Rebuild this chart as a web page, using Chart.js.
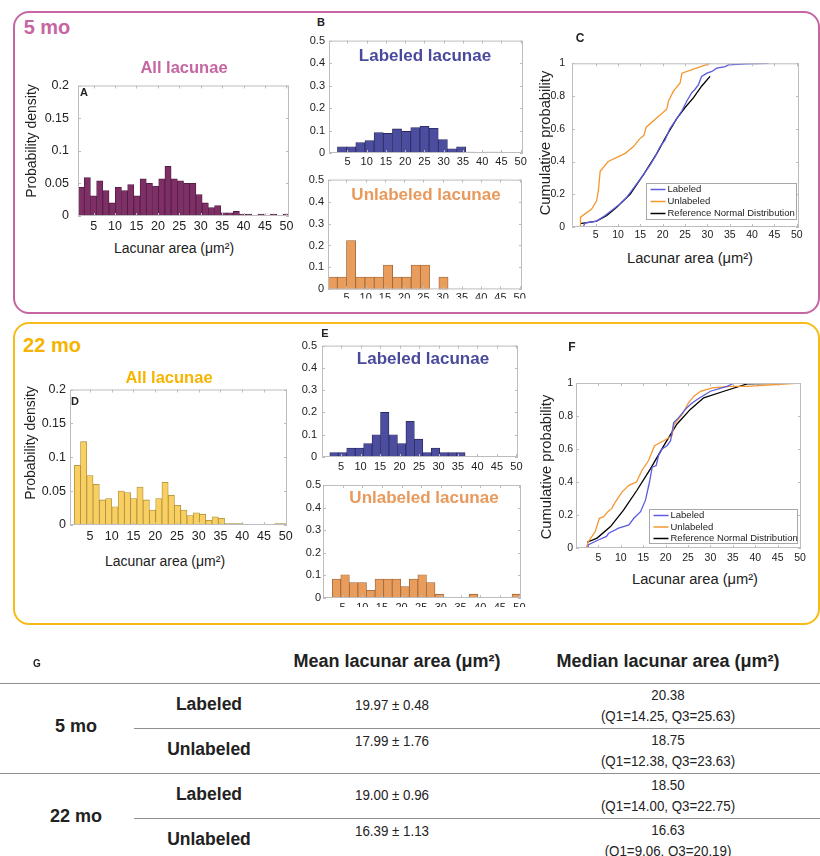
<!DOCTYPE html>
<html lang="en">
<head>
<meta charset="UTF-8">
<title>Lacunar area, 5 mo vs 22 mo</title>
<script src="https://cdn.jsdelivr.net/npm/chart.js"></script>
<style>
  body { margin: 0; background: #fff; font-family: "Liberation Sans", Arial, Helvetica, sans-serif; }
  #page { position: relative; width: 820px; height: 856px; overflow: hidden; }
  canvas { position: absolute; }
  .lbl { position: absolute; white-space: nowrap; transform: translate(-50%, -50%); color: #222; line-height: 1; }
  .rot { transform: translate(-50%, -50%) rotate(-90deg); }
  .narrow { transform: translate(-50%, -50%) scaleX(0.86); }
  .frame { position: absolute; box-sizing: border-box; border-radius: 16px; }
  .rule { position: absolute; height: 0; border-top: 1.5px solid #8f8f8f; }
  .b { font-weight: bold; }
</style>
</head>
<body>
<div id="page">
  <div class="frame" style="left:13px;top:11px;width:807px;height:303px;border:2.5px solid #c566a3"></div>
  <div class="frame" style="left:13px;top:322px;width:807px;height:303px;border:2.5px solid #f7bb17"></div>

  <canvas id="cA"></canvas>
  <canvas id="cB1"></canvas>
  <canvas id="cB2"></canvas>
  <canvas id="cC"></canvas>
  <canvas id="cD"></canvas>
  <canvas id="cE1"></canvas>
  <canvas id="cE2"></canvas>
  <canvas id="cF"></canvas>

  <!-- 5 mo -->
  <div class="lbl b" style="left:47px;top:27px;font-size:20px;color:#c566a3">5 mo</div>
  <div class="lbl b" style="left:184px;top:67px;font-size:16.5px;color:#c566a3">All lacunae</div>
  <div class="lbl b" style="left:84px;top:92px;font-size:11px">A</div>
  <div class="lbl rot" style="left:31px;top:141px;font-size:14px">Probability density</div>
  <div class="lbl" style="left:174px;top:248px;font-size:14px">Lacunar area (μm²)</div>
  <div class="lbl b" style="left:321px;top:22px;font-size:11px">B</div>
  <div class="lbl b" style="left:425px;top:55px;font-size:17px;color:#4a4a9c">Labeled lacunae</div>
  <div class="lbl b" style="left:426px;top:194px;font-size:17px;color:#e8995b">Unlabeled lacunae</div>
  <div class="lbl b" style="left:580px;top:38px;font-size:12px">C</div>
  <div class="lbl rot" style="left:545px;top:143px;font-size:14.7px">Cumulative probability</div>
  <div class="lbl" style="left:690px;top:258px;font-size:14.7px">Lacunar area (μm²)</div>

  <!-- 22 mo -->
  <div class="lbl b" style="left:52px;top:345px;font-size:20px;color:#f6b400">22 mo</div>
  <div class="lbl b" style="left:169px;top:377px;font-size:16.5px;color:#f6b400">All lacunae</div>
  <div class="lbl b" style="left:75px;top:401px;font-size:11px">D</div>
  <div class="lbl rot" style="left:30px;top:443px;font-size:14px">Probability density</div>
  <div class="lbl" style="left:165px;top:561px;font-size:14px">Lacunar area (μm²)</div>
  <div class="lbl b" style="left:325px;top:333px;font-size:11px">E</div>
  <div class="lbl b" style="left:423px;top:358px;font-size:17px;color:#4a4a9c">Labeled lacunae</div>
  <div class="lbl b" style="left:424px;top:497px;font-size:17px;color:#e8995b">Unlabeled lacunae</div>
  <div class="lbl b" style="left:572px;top:347px;font-size:12px">F</div>
  <div class="lbl rot" style="left:546px;top:467px;font-size:14.7px">Cumulative probability</div>
  <div class="lbl" style="left:695px;top:579px;font-size:14.7px">Lacunar area (μm²)</div>

  <div id="table"></div>
</div>

<script>
// ---------- data ----------
const xTickVals = [5, 10, 15, 20, 25, 30, 35, 40, 45, 50];
const densTickVals = [0, 0.05, 0.1, 0.15, 0.2];
const densTickText = ['0', '0.05', '0.1', '0.15', '0.2'];
const fracTickVals = [0, 0.1, 0.2, 0.3, 0.4, 0.5];
const fracTickText = ['0', '0.1', '0.2', '0.3', '0.4', '0.5'];
const cumTickVals = [0, 0.2, 0.4, 0.6, 0.8, 1];
const cumTickText = ['0', '0.2', '0.4', '0.6', '0.8', '1'];

// 5 mo histograms (bin start, bin width, density per bin)
const all5Start = 1.35, all5Width = 1.449;
const all5 = [0.044, 0.059, 0.031, 0.054, 0.039, 0.020, 0.044, 0.039, 0.048, 0.031, 0.057, 0.050,
  0.046, 0.057, 0.076, 0.057, 0.054, 0.050, 0.050, 0.033, 0.020, 0.013, 0.016, 0.005, 0.005, 0.007,
  0.003, 0.003, 0, 0.003, 0, 0.003, 0, 0.003];
const lab5Start = 2.4, lab5Width = 2.38;
const lab5 = [0.028, 0.028, 0.046, 0.055, 0.091, 0.087, 0.107, 0.096, 0.113, 0.119, 0.110, 0.060,
  0.019, 0.028, 0.004, 0, 0.004, 0.004];
const unl5Start = 0.2, unl5Width = 2.4;
const unl5 = [0.056, 0.056, 0.222, 0.056, 0.056, 0.056, 0.111, 0.056, 0.056, 0.111, 0.111, 0, 0.056];

// 5 mo cumulative curves
const cdf5LabX = [2.2, 2.6, 5.2, 7.1, 9.0, 10.4, 11.9, 13.8, 15.7, 17.2, 18.3, 19.4, 20.5, 21.6, 23.1,
  24.3, 25.4, 26.5, 27.2, 28.0, 28.7, 29.9, 31.0, 32.1, 34.0, 34.7, 38.8, 43.7];
const cdf5LabY = [0, 0.024, 0.036, 0.07, 0.11, 0.14, 0.18, 0.25, 0.32, 0.38, 0.43, 0.49, 0.53, 0.60, 0.66,
  0.71, 0.77, 0.82, 0.84, 0.87, 0.92, 0.94, 0.95, 0.97, 0.98, 0.99, 0.996, 1.0];
const cdf5UnlX = [1.5, 1.6, 4.1, 5.2, 5.6, 6.0, 7.8, 11.6, 13.4, 14.9, 15.8, 16.3, 20.9, 21.3, 22.4, 23.9, 24.3, 30.6];
const cdf5UnlY = [0, 0.06, 0.11, 0.16, 0.22, 0.34, 0.40, 0.45, 0.49, 0.54, 0.56, 0.61, 0.72, 0.77, 0.83, 0.88, 0.94, 1.0];
const cdf5RefX = [1.5, 5.2, 7.5, 9.7, 12.7, 15.7, 18.7, 20.9, 23.1, 25.0, 26.9, 28.7, 30.6];
const cdf5RefY = [0.02, 0.036, 0.07, 0.12, 0.20, 0.32, 0.45, 0.56, 0.66, 0.73, 0.79, 0.86, 0.92];

// 22 mo histograms
const all22Start = 1.38, all22Width = 1.44;
const all22 = [0.088, 0.123, 0.073, 0.060, 0.037, 0.039, 0.027, 0.050, 0.048, 0.039, 0.056, 0.037,
  0.022, 0.039, 0.063, 0.044, 0.029, 0.022, 0.014, 0.018, 0.016, 0.007, 0.012, 0.010, 0.002, 0.002,
  0.002, 0, 0, 0, 0, 0, 0.002, 0.002];
const lab22Start = 2.1, lab22Width = 2.17;
const lab22 = [0.02, 0.02, 0.04, 0.04, 0.06, 0.10, 0.20, 0.10, 0.06, 0.16, 0.08, 0.02, 0.04, 0.02, 0.02, 0.02];
const unl22Start = 2.35, unl22Width = 2.18;
const unl22 = [0.084, 0.103, 0.068, 0.068, 0.034, 0.084, 0.084, 0.084, 0.051, 0.084, 0.103, 0.068,
  0.017, 0, 0, 0, 0.017, 0, 0, 0, 0, 0.017];

// 22 mo cumulative curves
const cdf22LabX = [2.6, 2.8, 5.1, 6.8, 7.3, 9.5, 11.8, 12.9, 14.4, 15.5, 16.4, 17.0, 17.9, 18.4, 19.2,
  20.3, 21.1, 21.8, 22.9, 24.4, 25.5, 27.0, 30.0, 33.7, 35.3];
const cdf22LabY = [0, 0.02, 0.05, 0.07, 0.09, 0.12, 0.14, 0.18, 0.22, 0.29, 0.40, 0.49, 0.50, 0.56, 0.60,
  0.62, 0.65, 0.76, 0.79, 0.84, 0.87, 0.90, 0.95, 0.98, 1.0];
const cdf22UnlX = [2.3, 2.8, 4.3, 5.2, 6.2, 7.1, 8.0, 8.8, 10.3, 11.8, 13.5, 14.7, 16.2, 17.5, 19.6,
  21.4, 21.9, 23.7, 25.1, 26.3, 27.8, 30.4, 34.4, 38.2, 50.0];
const cdf22UnlY = [0, 0.04, 0.10, 0.18, 0.19, 0.22, 0.24, 0.28, 0.34, 0.38, 0.40, 0.47, 0.53, 0.62, 0.65,
  0.68, 0.75, 0.81, 0.88, 0.92, 0.95, 0.97, 0.98, 0.98, 1.0];
const cdf22RefX = [2.5, 4.7, 7.7, 10.6, 13.6, 16.6, 19.6, 22.5, 25.5, 28.5, 33.0, 38.2, 50.0];
const cdf22RefY = [0.035, 0.06, 0.13, 0.23, 0.35, 0.48, 0.62, 0.75, 0.84, 0.91, 0.95, 0.995, 1.0];

const cdfNames = ['Labeled', 'Unlabeled', 'Reference Normal Distribution'];

// summary table
const ageGroups = ['5 mo', '22 mo'];
const cellGroups = ['Labeled', 'Unlabeled'];
const meanArea = [['19.97 ± 0.48', '17.99 ± 1.76'], ['19.00 ± 0.96', '16.39 ± 1.13']];
const medianArea = [['20.38', '18.75'], ['18.50', '16.63']];
const quartiles = [['(Q1=14.25, Q3=25.63)', '(Q1=12.38, Q3=23.63)'], ['(Q1=14.00, Q3=22.75)', '(Q1=9.06, Q3=20.19)']];

// ---------- drawing ----------
const FONT = '"Liberation Sans", Arial, Helvetica, sans-serif';
Chart.defaults.font.family = FONT;

// matlab style box with inward ticks
const matBox = {
  id: 'matBox',
  afterDraw(chart) {
    const { ctx, chartArea: a, scales } = chart;
    ctx.save();
    ctx.strokeStyle = '#bdbdbd';
    ctx.lineWidth = 1;
    ctx.strokeRect(a.left + 0.5, a.top + 0.5, a.right - a.left - 1, a.bottom - a.top - 1);
    ctx.beginPath();
    scales.x.ticks.forEach(t => {
      const p = Math.round(scales.x.getPixelForValue(t.value)) + 0.5;
      ctx.moveTo(p, a.bottom); ctx.lineTo(p, a.bottom - 3);
      ctx.moveTo(p, a.top); ctx.lineTo(p, a.top + 3);
    });
    scales.y.ticks.forEach(t => {
      const p = Math.round(scales.y.getPixelForValue(t.value)) + 0.5;
      ctx.moveTo(a.left, p); ctx.lineTo(a.left + 3, p);
      ctx.moveTo(a.right, p); ctx.lineTo(a.right - 3, p);
    });
    ctx.stroke();
    ctx.restore();
  }
};

// boxed legend in the lower right corner of the plot
const boxLegend = {
  id: 'boxLegend',
  defaults: { show: false },
  afterDraw(chart, args, o) {
    if (!o.show) return;
    const { ctx, chartArea: a } = chart;
    const x0 = Math.round(a.right - o.right - o.w) + 0.5;
    const y0 = Math.round(a.bottom - o.bottom - o.h) + 0.5;
    ctx.save();
    ctx.fillStyle = '#fff';
    ctx.fillRect(x0, y0, o.w, o.h);
    ctx.strokeStyle = '#a8a8a8';
    ctx.lineWidth = 1;
    ctx.strokeRect(x0, y0, o.w, o.h);
    ctx.font = '9.5px ' + FONT;
    ctx.textBaseline = 'middle';
    chart.data.datasets.forEach((d, i) => {
      const y = y0 + o.first + i * o.step;
      ctx.strokeStyle = d.borderColor;
      ctx.lineWidth = 1.5;
      ctx.beginPath();
      ctx.moveTo(x0 + 4, y); ctx.lineTo(x0 + 19, y);
      ctx.stroke();
      ctx.fillStyle = '#222';
      ctx.fillText(d.label, x0 + 21, y);
    });
    ctx.restore();
  }
};

Chart.register(matBox, boxLegend);

function placeCanvas(id, area, pad) {
  const cv = document.getElementById(id);
  cv.width = area.r - area.l + pad.l + pad.r;
  cv.height = area.b - area.t + pad.t + pad.b;
  cv.style.left = (area.l - pad.l) + 'px';
  cv.style.top = (area.t - pad.t) + 'px';
  return cv;
}

function scales(range, yVals, yText, pad, tickSize, xPad, yPad) {
  return {
    x: {
      type: 'linear', min: range[0], max: range[1], offset: false, bounds: 'data',
      afterBuildTicks: s => { s.ticks = xTickVals.map(v => ({ value: v })); },
      afterFit: s => { s.height = pad.b; },
      grid: { display: false, drawTicks: false }, border: { display: false },
      ticks: { autoSkip: false, maxRotation: 0, padding: xPad, color: '#222',
        font: { size: tickSize }, callback: v => String(v) }
    },
    y: {
      type: 'linear', min: yVals[0], max: yVals[yVals.length - 1], bounds: 'data',
      afterBuildTicks: s => { s.ticks = yVals.map(v => ({ value: v })); },
      afterFit: s => { s.width = pad.l; },
      grid: { display: false, drawTicks: false }, border: { display: false },
      ticks: { autoSkip: false, padding: yPad, color: '#222',
        font: { size: tickSize }, callback: (v, i) => yText[i] }
    }
  };
}

function histogram(id, area, pad, range, start, width, values, fill, edge, yVals, yText, tickSize, xPad, yPad) {
  const cv = placeCanvas(id, area, pad);
  new Chart(cv, {
    type: 'bar',
    data: {
      datasets: [{
        data: values.map((v, i) => ({ x: start + (i + 0.5) * width, y: v === 0 ? null : v })),
        backgroundColor: fill, borderColor: edge, borderWidth: 0.8, borderSkipped: false,
        barPercentage: 1, categoryPercentage: 1
      }]
    },
    options: {
      responsive: false, animation: false, devicePixelRatio: 1,
      layout: { padding: { left: 0, top: pad.t, right: pad.r, bottom: 0 } },
      scales: scales(range, yVals, yText, pad, tickSize, xPad, yPad),
      plugins: { legend: { display: false }, tooltip: { enabled: false } }
    }
  });
}

function cdfPanel(id, area, pad, range, curves, legendBox, xPad, yPad) {
  const cv = placeCanvas(id, area, pad);
  const colors = ['#5c5ce0', '#f4972f', '#000000'];
  new Chart(cv, {
    type: 'line',
    data: {
      datasets: curves.map((c, i) => ({
        label: cdfNames[i],
        data: c[0].map((x, j) => ({ x: x, y: c[1][j] })),
        borderColor: colors[i], borderWidth: 1.3, pointRadius: 0, tension: 0, fill: false
      }))
    },
    options: {
      responsive: false, animation: false, devicePixelRatio: 1,
      layout: { padding: { left: 0, top: pad.t, right: pad.r, bottom: 0 } },
      scales: scales(range, cumTickVals, cumTickText, pad, 10.5, xPad, yPad),
      plugins: { legend: { display: false }, tooltip: { enabled: false },
        boxLegend: Object.assign({ show: true }, legendBox) }
    }
  });
}

const pinkBar = ['#7e2f66', '#4e1b40'];
const yellowBar = ['#f8cf60', '#a98c3a'];
const blueBar = ['#4d4d9f', '#28285e'];
const orangeBar = ['#e89d5c', '#99643a'];

// 5 mo
histogram('cA', { l: 78, t: 79, r: 289, b: 216 }, { l: 42, t: 10, r: 12, b: 22 }, [1.35, 50.6],
  all5Start, all5Width, all5, pinkBar[0], pinkBar[1], densTickVals, densTickText, 12.5, 3, 9);
histogram('cB1', { l: 329, t: 40, r: 523, b: 153 }, { l: 26, t: 10, r: 10, b: 18 }, [0.2, 50.6],
  lab5Start, lab5Width, lab5, blueBar[0], blueBar[1], fracTickVals, fracTickText, 11, 2, 4);
histogram('cB2', { l: 328, t: 179, r: 522, b: 291 }, { l: 26, t: 10, r: 10, b: 9 }, [0.2, 50.6],
  unl5Start, unl5Width, unl5, orangeBar[0], orangeBar[1], fracTickVals, fracTickText, 11, 2, 4);
cdfPanel('cC', { l: 572, t: 60, r: 799, b: 227 }, { l: 30, t: 10, r: 12, b: 20 }, [-0.3, 50.5],
  [[cdf5LabX, cdf5LabY], [cdf5UnlX, cdf5UnlY], [cdf5RefX, cdf5RefY]],
  { right: 3, bottom: 8, w: 150, h: 36, first: 6, step: 12 }, 2, 7);

// 22 mo
histogram('cD', { l: 70, t: 388, r: 287, b: 525 }, { l: 36, t: 10, r: 12, b: 22 }, [0.4, 50.3],
  all22Start, all22Width, all22, yellowBar[0], yellowBar[1], densTickVals, densTickText, 12.5, 4, 4);
histogram('cE1', { l: 322, t: 344, r: 518, b: 457 }, { l: 26, t: 10, r: 10, b: 18 }, [0.1, 50.4],
  lab22Start, lab22Width, lab22, blueBar[0], blueBar[1], fracTickVals, fracTickText, 11, 3, 5);
histogram('cE2', { l: 323, t: 485, r: 521, b: 598 }, { l: 26, t: 10, r: 10, b: 9 }, [0, 50.4],
  unl22Start, unl22Width, unl22, orangeBar[0], orangeBar[1], fracTickVals, fracTickText, 11, 3, 2);
cdfPanel('cF', { l: 576, t: 383, r: 801, b: 548 }, { l: 30, t: 10, r: 12, b: 20 }, [0, 50.2],
  [[cdf22LabX, cdf22LabY], [cdf22UnlX, cdf22UnlY], [cdf22RefX, cdf22RefY]],
  { right: 4, bottom: 5, w: 148, h: 34, first: 6, step: 11.5 }, 4, 3);

// ---------- table G ----------
const tbl = document.getElementById('table');
function put(text, x, y, size, bold, narrow) {
  const d = document.createElement('div');
  d.className = 'lbl' + (bold ? ' b' : '') + (narrow ? ' narrow' : '');
  d.style.left = x + 'px';
  d.style.top = y + 'px';
  d.style.fontSize = size + 'px';
  d.textContent = text;
  tbl.appendChild(d);
}
function rule(x, y) {
  const d = document.createElement('div');
  d.className = 'rule';
  d.style.left = x + 'px';
  d.style.top = y + 'px';
  d.style.width = (820 - x) + 'px';
  tbl.appendChild(d);
}
put('G', 37, 664, 10, true);
put('Mean lacunar area (μm²)', 397, 661, 18, true);
put('Median lacunar area (μm²)', 668, 661, 18, true);
rule(0, 683);
const groupTop = [683, 773];
ageGroups.forEach((g, gi) => {
  const top = groupTop[gi];
  put(g, 76, top + 43, 18, true);
  if (gi > 0) rule(0, top);
  rule(134, top + 45);
  cellGroups.forEach((c, ci) => {
    const rt = top + ci * 45;
    put(c, 209, rt + 22, 17.5, true);
    put(meanArea[gi][ci], 392, rt + (ci === 0 ? 22 : 13), 15.5, false, true);
    put(medianArea[gi][ci], 668, rt + 12, 15.5, false, true);
    put(quartiles[gi][ci], 668, rt + 33, 15.5, false, true);
  });
});
</script>
</body>
</html>
